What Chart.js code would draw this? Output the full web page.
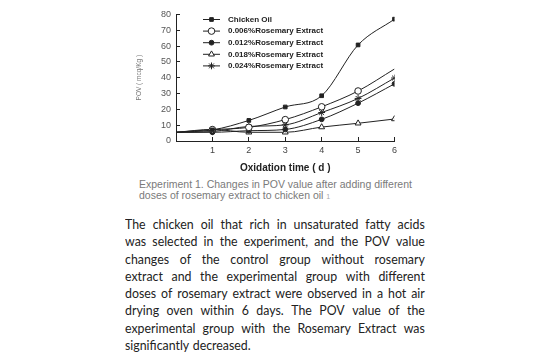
<!DOCTYPE html>
<html>
<head>
<meta charset="utf-8">
<script src="https://cdn.jsdelivr.net/npm/chart.js@4/dist/chart.umd.min.js"></script>
<style>
  html, body { margin: 0; padding: 0; background: #fff; }
  body { width: 550px; height: 364px; position: relative; overflow: hidden; }
  #chartBox { position: absolute; left: 135px; top: 0; width: 270px; height: 174px; }
  #caption {
    position: absolute; left: 139px; top: 179px; width: 300px;
    font-family: "Liberation Sans", Arial, sans-serif; font-size: 10.5px; line-height: 11px;
    color: #7a7a7a;
  }
  #caption sup { font-size: 7px; color: #aaa; vertical-align: baseline; }
  #para {
    position: absolute; left: 125px; top: 215px; width: 340px;
    transform: scaleX(0.882); transform-origin: 0 0;
    font-family: Lato, sans-serif; font-size: 14px; line-height: 17.3px;
    color: #222;
  }
  #para div { display: flex; justify-content: space-between; gap: 3px; white-space: nowrap; }
  #para div.last { justify-content: flex-start; gap: 4px; }
</style>
</head>
<body>
<div id="chartBox"><canvas id="povChart" width="270" height="174"></canvas></div>
<div id="caption">Experiment 1. Changes in POV value after adding different<br>doses of rosemary extract to chicken oil <sup>1</sup></div>
<div id="para"></div>
<script>
const days = [0, 1, 2, 3, 4, 5, 6];
const seriesNames = [
  "Chicken Oil",
  "0.006%Rosemary Extract",
  "0.012%Rosemary Extract",
  "0.018%Rosemary Extract",
  "0.024%Rosemary Extract"
];
const chickenOil = [5.5, 7, 13, 21.5, 28.6, 60.7, 77];
const rosemary006 = [5.5, 7.2, 8.6, 13.5, 21.6, 31.6, 45.5];
const rosemary012 = [5.5, 5.5, 6.5, 7.3, 13.7, 23.9, 36.1];
const rosemary018 = [5.5, 7.3, 5.5, 5.5, 8.8, 11.2, 13.9];
const rosemary024 = [5.5, 6, 9.2, 10.2, 18, 26.9, 39.8];
const yTicks = [0, 10, 20, 30, 40, 50, 60, 70, 80];

const paraLines = [
  "The chicken oil that rich in unsaturated fatty acids",
  "was selected in the experiment, and the POV value",
  "changes of the control group without rosemary",
  "extract and the experimental group with different",
  "doses of rosemary extract were observed in a hot air",
  "drying oven within 6 days. The POV value of the",
  "experimental group with the Rosemary Extract was",
  "significantly decreased."
];

// justified paragraph, one row per line of the original
const para = document.getElementById("para");
paraLines.forEach((line, i) => {
  const row = document.createElement("div");
  if (i === paraLines.length - 1) row.className = "last";
  line.split(" ").forEach(w => {
    const s = document.createElement("span");
    s.textContent = w;
    row.appendChild(s);
  });
  para.appendChild(row);
});

const ink = "#222";
const styles = [
  { pointStyle: "rect", radius: 2.6, fill: ink },
  { pointStyle: "circle", radius: 3.3, fill: "#fff" },
  { pointStyle: "circle", radius: 2.4, fill: ink },
  { pointStyle: "triangle", radius: 3.4, fill: "#fff" },
  { pointStyle: "star", radius: 3.4, fill: ink }
];
const allSeries = [chickenOil, rosemary006, rosemary012, rosemary018, rosemary024];

const datasets = allSeries.map((vals, i) => {
  const st = styles[i];
  const radii = days.map((d, j) => (j === 0 ? 0 : st.radius));
  if (i === 1) radii[radii.length - 1] = 0;
  return {
    label: seriesNames[i],
    data: days.map((d, j) => ({ x: d, y: vals[j] })),
    borderColor: ink,
    borderWidth: 1,
    cubicInterpolationMode: "monotone",
    pointStyle: st.pointStyle,
    pointRadius: radii,
    pointBackgroundColor: st.fill,
    pointBorderColor: ink,
    pointBorderWidth: 1,
    fill: false
  };
});

// legend drawn inside the plot area, top left
const insideLegend = {
  id: "insideLegend",
  afterDatasetsDraw(chart) {
    const ctx = chart.ctx;
    const x0 = 68, x1 = 85, tx = 93, y0 = 19.5, step = 11.6;
    ctx.save();
    chart.data.datasets.forEach((ds, i) => {
      const y = y0 + i * step;
      ctx.strokeStyle = ink;
      ctx.lineWidth = 1;
      ctx.beginPath();
      ctx.moveTo(x0, y);
      ctx.lineTo(x1, y);
      ctx.stroke();
      ctx.fillStyle = styles[i].fill;
      Chart.helpers.drawPoint(ctx, {
        pointStyle: styles[i].pointStyle,
        radius: styles[i].radius,
        rotation: 0,
        borderWidth: 1
      }, (x0 + x1) / 2, y);
      ctx.fillStyle = "#222";
      ctx.font = "bold 8px 'Liberation Sans', Arial, sans-serif";
      ctx.textBaseline = "middle";
      ctx.textAlign = "left";
      ctx.fillText(ds.label, tx, y);
    });
    ctx.restore();
  }
};

new Chart(document.getElementById("povChart").getContext("2d"), {
  type: "line",
  data: { datasets: datasets },
  plugins: [insideLegend],
  options: {
    responsive: false,
    animation: false,
    layout: { padding: { top: 11, right: 6, left: 0, bottom: 0 } },
    plugins: { legend: { display: false }, tooltip: { enabled: false } },
    scales: {
      x: {
        type: "linear",
        min: 0,
        max: 6,
        border: { display: true, color: ink, width: 1 },
        grid: { display: true, drawOnChartArea: false, tickLength: -4, color: ink },
        ticks: {
          stepSize: 1,
          padding: 8,
          color: "#444",
          font: { family: "Liberation Sans", size: 9 },
          callback: v => (v === 0 ? "" : v)
        },
        title: {
          display: true,
          text: "Oxidation time ( d )",
          color: "#222",
          font: { family: "Liberation Sans", size: 10, weight: "bold" },
          padding: { top: 5, bottom: 0 }
        },
        afterFit: s => { s.height = 33; }
      },
      y: {
        min: 0,
        max: 80,
        afterBuildTicks: s => { s.ticks = yTicks.map(v => ({ value: v })); },
        border: { display: true, color: ink, width: 1 },
        grid: { display: true, drawOnChartArea: false, tickLength: -4, color: ink },
        ticks: {
          padding: 9,
          color: "#555",
          font: { family: "Liberation Sans", size: 9 }
        },
        title: {
          display: true,
          text: "POV ( mcq/Kg )",
          color: "#777",
          font: { family: "Liberation Sans", size: 6.5 },
          padding: { top: 0, bottom: 0 }
        },
        afterFit: s => { s.width = 41; }
      }
    }
  }
});
</script>
</body>
</html>
